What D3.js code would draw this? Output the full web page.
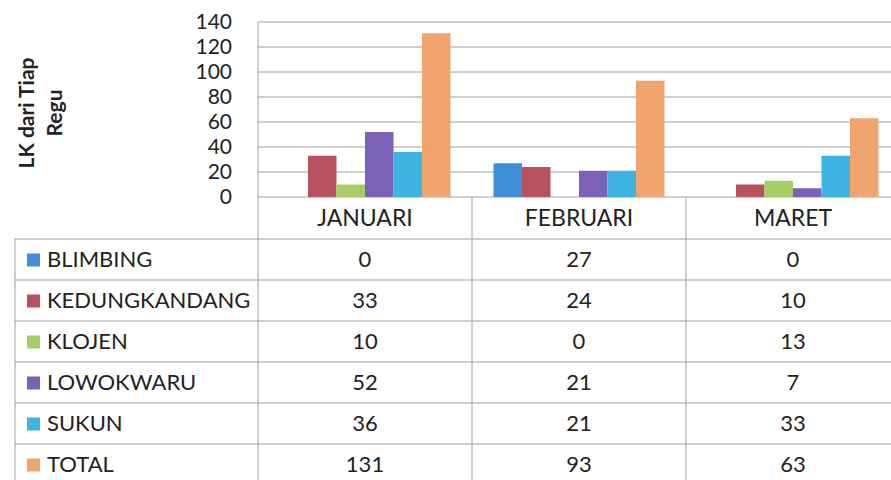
<html>
  <meta charset="utf-8" />
  <script src="https://d3js.org/d3.v7.min.js"></script>
  <style>
    body { margin: 0; background: #fff; }
    text { font-family: Lato, "Open Sans", sans-serif; fill: #222; }
  </style>
  <body>
    <svg width="891" height="480" id="chart"></svg>
  </body>
  <script>
    const months = ["JANUARI", "FEBRUARI", "MARET"];
    const series = ["BLIMBING", "KEDUNGKANDANG", "KLOJEN", "LOWOKWARU", "SUKUN", "TOTAL"];
    const colors = ["#3f8ed8", "#b8505f", "#a5cf66", "#7b62b6", "#3fb3e2", "#f1a56e"];
    const blimbing = [0, 27, 0];
    const kedungkandang = [33, 24, 10];
    const klojen = [10, 0, 13];
    const lowokwaru = [52, 21, 7];
    const sukun = [36, 21, 33];
    const total = [131, 93, 63];
    const yTicks = [0, 20, 40, 60, 80, 100, 120, 140];

    const values = [blimbing, kedungkandang, klojen, lowokwaru, sukun, total];

    const svg = d3.select("#chart");
    const plotLeft = 258, plotRight = 900, plotTop = 22, base = 197;
    const rowH = 41, headBottom = 239, tableLeft = 15;
    const gridColor = "#a0a0a0";

    const x = d3.scaleBand().domain(months).range([plotLeft, plotRight]);
    const xInner = d3
      .scaleBand()
      .domain(series)
      .range([21.5, x.bandwidth() - 21.5]);
    const y = d3.scaleLinear().domain([0, 140]).range([base, plotTop]);

    // gridlines
    svg
      .append("g")
      .selectAll("line")
      .data(yTicks)
      .enter()
      .append("line")
      .attr("x1", plotLeft)
      .attr("x2", plotRight)
      .attr("y1", (d) => y(d))
      .attr("y2", (d) => y(d))
      .attr("stroke", gridColor)
      .attr("stroke-width", 1);

    // y axis
    const yAxis = svg
      .append("g")
      .attr("transform", `translate(${plotLeft},0)`)
      .call(d3.axisLeft(y).tickValues(yTicks).tickSize(0).tickPadding(26));
    yAxis.select(".domain").remove();
    yAxis
      .selectAll("text")
      .style("font-family", "Lato, sans-serif")
      .style("font-size", "21px")
      .attr("fill", "#222");

    // bars
    series.forEach((s, i) => {
      svg
        .append("g")
        .selectAll("rect")
        .data(months.map((m, j) => ({ m: m, v: values[i][j] })))
        .enter()
        .append("rect")
        .attr("x", (d) => x(d.m) + xInner(s))
        .attr("width", xInner.bandwidth())
        .attr("y", (d) => y(d.v))
        .attr("height", (d) => base - y(d.v))
        .attr("fill", colors[i]);
    });

    // y title
    const title = svg
      .append("text")
      .attr("transform", "translate(34,113) rotate(-90)")
      .attr("text-anchor", "middle")
      .style("font-weight", "bold")
      .style("font-size", "21px");
    title.append("tspan").attr("x", 0).attr("y", 0).text("LK dari Tiap");
    title.append("tspan").attr("x", 0).attr("y", 28).text("Regu");

    // data table lines
    const table = svg.append("g").attr("stroke", gridColor).attr("stroke-width", 1);
    table.append("line").attr("x1", plotLeft).attr("x2", plotLeft).attr("y1", plotTop).attr("y2", 480);
    table.append("line").attr("x1", tableLeft).attr("x2", tableLeft).attr("y1", headBottom).attr("y2", 480);
    months.forEach((m) => {
      table
        .append("line")
        .attr("x1", x(m) + x.bandwidth())
        .attr("x2", x(m) + x.bandwidth())
        .attr("y1", base)
        .attr("y2", 480);
    });
    d3.range(series.length + 1).forEach((r) => {
      table
        .append("line")
        .attr("x1", tableLeft)
        .attr("x2", plotRight)
        .attr("y1", headBottom + r * rowH)
        .attr("y2", headBottom + r * rowH);
    });

    // category header
    svg
      .append("g")
      .selectAll("text")
      .data(months)
      .enter()
      .append("text")
      .attr("x", (d) => x(d) + x.bandwidth() / 2)
      .attr("y", (base + headBottom) / 2)
      .attr("dy", "0.36em")
      .attr("text-anchor", "middle")
      .style("font-size", "23px")
      .text((d) => d);

    // rows
    series.forEach((s, i) => {
      const cy = headBottom + i * rowH + rowH / 2;
      svg
        .append("rect")
        .attr("x", 27)
        .attr("y", cy - 6)
        .attr("width", 13)
        .attr("height", 13)
        .attr("fill", colors[i]);
      svg
        .append("text")
        .attr("x", 47)
        .attr("y", cy)
        .attr("dy", "0.36em")
        .style("font-size", "22px")
        .text(s);
      months.forEach((m, j) => {
        svg
          .append("text")
          .attr("x", x(m) + x.bandwidth() / 2)
          .attr("y", cy)
          .attr("dy", "0.36em")
          .attr("text-anchor", "middle")
          .style("font-size", "22px")
          .text(values[i][j]);
      });
    });
  </script>
</html>
